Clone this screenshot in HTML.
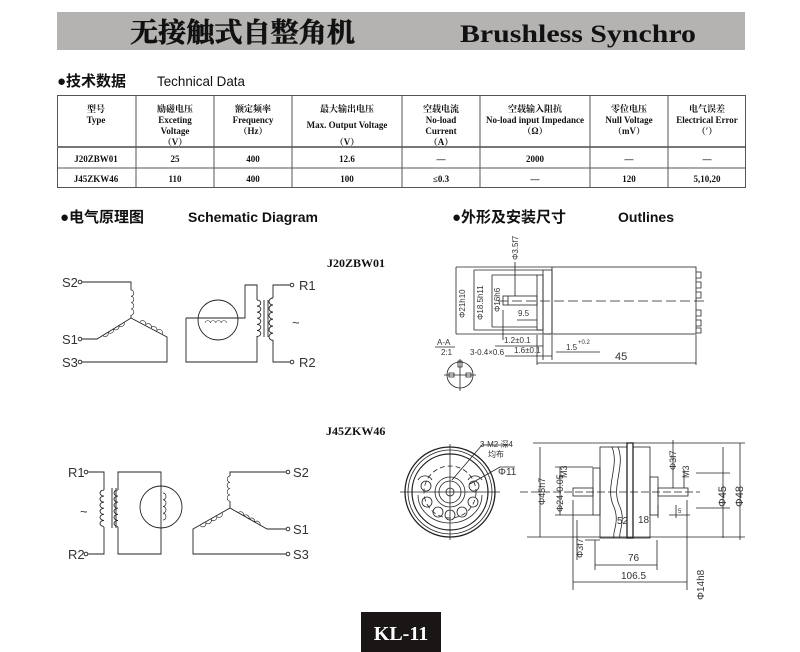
<!DOCTYPE html>
<html><head><meta charset="utf-8"><style>
body{margin:0;background:#fff;}
svg{display:block;}
.s{font-family:"Liberation Serif","Noto Serif CJK SC",serif;}
.a{font-family:"Liberation Sans","Noto Sans CJK SC",sans-serif;}
</style></head><body>
<svg width="800" height="652" viewBox="0 0 800 652" xmlns="http://www.w3.org/2000/svg" fill="none" stroke="#222" stroke-width="1">
<defs>
<path id="coil" d="M0,0 a4,4.5 0 0 1 0,9 a4,4.5 0 0 1 0,9 a4,4.5 0 0 1 0,9 a4,4.5 0 0 1 0,9"/>
<path id="coil6" d="M0,0 a4,3.2 0 0 1 0,6.4 a4,3.2 0 0 1 0,6.4 a4,3.2 0 0 1 0,6.4 a4,3.2 0 0 1 0,6.4 a4,3.2 0 0 1 0,6.4 a4,3.2 0 0 1 0,6.4"/>
</defs>
<!-- header -->
<rect x="57" y="12" width="688" height="38" fill="#b5b3b1" stroke="none"/>
<text x="130" y="42" class="s" font-size="27" font-weight="bold" fill="#111" stroke="#111" stroke-width="0.6" textLength="225" lengthAdjust="spacingAndGlyphs">无接触式自整角机</text>
<text x="460" y="42" class="s" font-size="25" font-weight="bold" fill="#111" stroke="none" textLength="236" lengthAdjust="spacingAndGlyphs">Brushless Synchro</text>
<text x="57" y="86" class="a" font-size="15" font-weight="bold" fill="#111" stroke="none">●技术数据</text>
<text x="157" y="86" class="a" font-size="14" fill="#111" stroke="none" textLength="88" lengthAdjust="spacingAndGlyphs">Technical Data</text>
<!-- table -->
<g stroke="#555">
<rect x="57.5" y="95.5" width="688" height="92"/>
<line x1="57" y1="147" x2="745" y2="147" stroke-width="2" stroke="#777"/>
<line x1="57" y1="168" x2="745" y2="168"/>
<line x1="136" y1="95" x2="136" y2="187"/><line x1="214" y1="95" x2="214" y2="187"/>
<line x1="292" y1="95" x2="292" y2="187"/><line x1="402" y1="95" x2="402" y2="187"/>
<line x1="480" y1="95" x2="480" y2="187"/><line x1="590" y1="95" x2="590" y2="187"/>
<line x1="668" y1="95" x2="668" y2="187"/>
</g>
<g class="s" font-size="9" font-weight="bold" fill="#111" stroke="none" text-anchor="middle">
<text x="96" y="112">型号</text><text x="96" y="123">Type</text>
<text x="175" y="112">励磁电压</text><text x="175" y="123">Exceting</text><text x="175" y="134">Voltage</text><text x="175" y="145">（V）</text>
<text x="253" y="112">额定频率</text><text x="253" y="123">Frequency</text><text x="253" y="134">（Hz）</text>
<text x="347" y="112">最大输出电压</text><text x="347" y="128">Max. Output Voltage</text><text x="347" y="145">（V）</text>
<text x="441" y="112">空载电流</text><text x="441" y="123">No-load</text><text x="441" y="134">Current</text><text x="441" y="145">（A）</text>
<text x="535" y="112">空载输入阻抗</text><text x="535" y="123">No-load input Impedance</text><text x="535" y="134">（Ω）</text>
<text x="629" y="112">零位电压</text><text x="629" y="123">Null Voltage</text><text x="629" y="134">（mV）</text>
<text x="707" y="112">电气误差</text><text x="707" y="123">Electrical Error</text><text x="707" y="134">（′）</text>
<text x="96" y="162">J20ZBW01</text><text x="175" y="162">25</text><text x="253" y="162">400</text><text x="347" y="162">12.6</text><text x="441" y="162">—</text><text x="535" y="162">2000</text><text x="629" y="162">—</text><text x="707" y="162">—</text>
<text x="96" y="182">J45ZKW46</text><text x="175" y="182">110</text><text x="253" y="182">400</text><text x="347" y="182">100</text><text x="441" y="182">≤0.3</text><text x="535" y="182">—</text><text x="629" y="182">120</text><text x="707" y="182">5,10,20</text>
</g>
<!-- section headers -->
<text x="60" y="222" class="a" font-size="15" font-weight="bold" fill="#111" stroke="none">●电气原理图</text>
<text x="188" y="222" class="a" font-size="14" font-weight="bold" fill="#111" stroke="none">Schematic Diagram</text>
<text x="452" y="222" class="a" font-size="15" font-weight="bold" fill="#111" stroke="none">●外形及安装尺寸</text>
<text x="618" y="222" class="a" font-size="14" font-weight="bold" fill="#111" stroke="none">Outlines</text>
<text x="327" y="267" class="s" font-size="12" font-weight="bold" fill="#111" stroke="none">J20ZBW01</text>
<text x="326" y="435" class="s" font-size="12" font-weight="bold" fill="#111" stroke="none">J45ZKW46</text>
<!-- top schematic -->
<g stroke-width="0.9">
<circle cx="80" cy="282" r="1.8"/><circle cx="80" cy="339" r="1.8"/><circle cx="80" cy="362" r="1.8"/>
<path d="M82,282 H131 V290"/><use href="#coil" transform="translate(131,290) scale(0.7)"/><path d="M131,315 V318"/>
<path d="M131,318 L97,339 H82"/><use href="#coil" transform="translate(124,322) rotate(58) scale(0.7)"/>
<path d="M131,318 L167,337 V362 H82"/><use href="#coil" transform="translate(140,322) rotate(-62) scale(0.7)"/>
<circle cx="218" cy="320" r="20"/>
<path d="M186,318 H245 V285 H257 V300 M257,336 V362 H186 V318"/>
<use href="#coil6" transform="translate(257,300) scale(0.95)"/>
<use href="#coil" transform="translate(205,323) rotate(-90) scale(0.6)"/>
<path d="M264,300 V337 M268,300 V337"/>
<path d="M290,285 H273 V298 M273,340 V362 H290"/>
<use href="#coil6" transform="translate(273,298) scale(-1,1.1)"/>
<circle cx="292" cy="285" r="1.8"/><circle cx="292" cy="362" r="1.8"/>
</g>
<g class="a" font-size="13" fill="#333" stroke="none">
<text x="62" y="287">S2</text><text x="62" y="344">S1</text><text x="62" y="367">S3</text>
<text x="299" y="290">R1</text><text x="299" y="367">R2</text><text x="292" y="327">~</text>
</g>
<!-- bottom schematic -->
<g stroke-width="0.9">
<circle cx="86" cy="472" r="1.8"/><circle cx="86" cy="554" r="1.8"/>
<path d="M88,472 H104 V490 M104,527 V554 H88"/>
<use href="#coil6" transform="translate(104,490) scale(-1,0.95)"/>
<path d="M112,488 V528 M116,488 V528"/>
<path d="M118,490 V472 H161 V554 H118 V527"/>
<use href="#coil6" transform="translate(118,490) scale(-1,0.95)"/>
<circle cx="161" cy="507" r="21"/>
<use href="#coil" transform="translate(163,493) scale(0.75)"/>
<circle cx="288" cy="472" r="1.8"/><circle cx="288" cy="529" r="1.8"/><circle cx="288" cy="554" r="1.8"/>
<path d="M286,472 H230 V476"/><use href="#coil" transform="translate(230,476) scale(-0.7,0.7)"/><path d="M230,501 V508"/>
<path d="M230,508 L193,529 V554 H286"/><use href="#coil" transform="translate(222,513) rotate(60) scale(0.7)"/>
<path d="M230,508 L267,529 H286"/><use href="#coil" transform="translate(238,513) rotate(-60) scale(0.7)"/>
</g>
<g class="a" font-size="13" fill="#333" stroke="none">
<text x="68" y="477">R1</text><text x="68" y="559">R2</text><text x="80" y="516">~</text>
<text x="293" y="477">S2</text><text x="293" y="534">S1</text><text x="293" y="559">S3</text>
</g>
<!-- top outline -->
<g stroke-width="0.8">
<rect x="552" y="267" width="144" height="67"/>
<rect x="543" y="270" width="9" height="64"/>
<rect x="537" y="275" width="6" height="55"/>
<rect x="503" y="296" width="34" height="9"/>
<line x1="508" y1="296" x2="508" y2="305"/>
<path d="M696,272 h5 v6 h-5 M696,282 h5 v6 h-5 M696,292 h5 v6 h-5 M696,310 h5 v6 h-5 M696,320 h5 v6 h-5 M696,328 h5 v5 h-5"/>
<line x1="498" y1="301" x2="705" y2="301" stroke-dasharray="10,4"/>
<path d="M456,267 H552 M474,270 H543 M492,275 H537 M456,334 H552 M474,330 H543 M492,327 H537"/>
<path d="M456,267 V334 M474,270 V330 M492,275 V327"/>
<path d="M515,262 V296 M503,310 V340 M537,335 V365 M696,335 V365 M543,335 V360 M552,335 V360"/>
<path d="M537,363 H696 M495,346 H543 M505,356 H552 M556,352 H600 M517,320 H537"/>
<line x1="435" y1="347" x2="455" y2="347"/>
<circle cx="460" cy="375" r="13"/>
<path d="M444,375 H476 M460,359 V391"/>
<path d="M458,361 h4 v6 h-4z M449,373 h5 v4 h-5z M466,373 h5 v4 h-5z"/>
</g>
<g class="a" font-size="8" fill="#333" stroke="none">
<text transform="translate(465,318) rotate(-90)">Φ21h10</text>
<text transform="translate(483,320) rotate(-90)">Φ18.5h11</text>
<text transform="translate(500,312) rotate(-90)">Φ16h6</text>
<text transform="translate(518,260) rotate(-90)">Φ3.5f7</text>
<text x="518" y="316">9.5</text>
<text x="504" y="343">1.2±0.1</text><text x="514" y="353">1.6±0.1</text>
<text x="566" y="350">1.5</text><text x="578" y="344" font-size="6">+0.2</text>
<text x="615" y="360" font-size="11">45</text>
<text x="437" y="345">A-A</text><text x="441" y="355">2:1</text><text x="470" y="355">3-0.4×0.6</text>
</g>
<!-- bottom outline front view -->
<g stroke-width="0.8">
<circle cx="450" cy="492" r="45" stroke-width="1.3"/><circle cx="450" cy="492" r="42"/><circle cx="450" cy="492" r="38" stroke-width="1.2"/>
<circle cx="450" cy="492" r="26" stroke-dasharray="5,3"/>
<circle cx="450" cy="492" r="15"/><circle cx="450" cy="492" r="11"/><circle cx="450" cy="492" r="4"/>
<circle cx="426" cy="486" r="5"/><circle cx="474" cy="486" r="5"/>
<circle cx="427" cy="502" r="5"/><circle cx="438" cy="512" r="5"/><circle cx="450" cy="515" r="5"/><circle cx="462" cy="512" r="5"/><circle cx="473" cy="502" r="5"/>
<path d="M418,495 a32,28 0 0 0 64,0 M418,480 a8,8 0 0 1 14,0 M468,480 a8,8 0 0 1 14,0"/>
<line x1="400" y1="492" x2="500" y2="492"/><line x1="450" y1="444" x2="450" y2="540"/>
<path d="M452,480 L482,445 H510 M470,484 L500,467 H515"/>
</g>
<!-- bottom side view -->
<g stroke-width="0.8">
<rect x="600" y="447" width="27" height="91"/>
<rect x="627" y="443" width="6" height="95" stroke-width="1.3"/>
<rect x="633" y="447" width="17" height="91"/>
<rect x="650" y="477" width="8" height="38"/>
<rect x="593" y="468" width="7" height="47"/>
<rect x="573" y="488" width="20" height="8"/><rect x="658" y="488" width="30" height="8"/>
<path d="M612,447 c8,20 -8,40 2,60 c6,15 -2,25 0,31 M618,447 c8,20 -8,40 2,60 c6,15 -2,25 0,31"/>
<line x1="520" y1="492" x2="700" y2="492" stroke-dasharray="8,3"/>
<path d="M533,443 H745 M527,537 H745 M540,447 V537 M560,467 V515 M555,467 H593 M555,515 H593"/>
<path d="M723,447 V538 M740,443 V540 M696,473 H730 M696,508 H730"/>
<path d="M595,540 V570 M657,540 V570 M573,500 V590 M687,500 V590 M595,565 H657 M573,582 H687"/>
<path d="M673,440 V488 M684,470 V488 M676,505 V518 M658,505 V518 M669,515 H690"/>
<path d="M577,520 V560 M585,540 H600"/>
</g>
<g class="a" font-size="9" fill="#333" stroke="none">
<text transform="translate(545,505) rotate(-90)">Φ45h7</text>
<text transform="translate(563,512) rotate(-90)">Φ24-0.05</text>
<text transform="translate(567,478) rotate(-90)">M3</text>
<text transform="translate(676,470) rotate(-90)">Φ3f7</text>
<text transform="translate(689,478) rotate(-90)">M3</text>
<text transform="translate(726,507) rotate(-90)" font-size="11">Φ45</text>
<text transform="translate(743,507) rotate(-90)" font-size="11">Φ48</text>
<text transform="translate(583,558) rotate(-90)">Φ3f7</text>
<text transform="translate(704,600) rotate(-90)" font-size="10">Φ14h8</text>
<text x="617" y="524" font-size="10">52</text><text x="638" y="523" font-size="10">18</text>
<text x="678" y="513" font-size="6">5</text>
<text x="628" y="561" font-size="10">76</text><text x="621" y="579" font-size="10">106.5</text>
<text x="480" y="447" font-size="8">3-M2 深4</text><text x="488" y="457" font-size="8">均布</text>
<text x="498" y="475" font-size="10">Φ11</text>
</g>
<!-- footer -->
<rect x="361" y="612" width="80" height="40" fill="#1a1616" stroke="none"/>
<text x="401" y="640" class="s" font-size="20" font-weight="bold" fill="#fff" stroke="none" text-anchor="middle">KL-11</text>
</svg>
</body></html>
